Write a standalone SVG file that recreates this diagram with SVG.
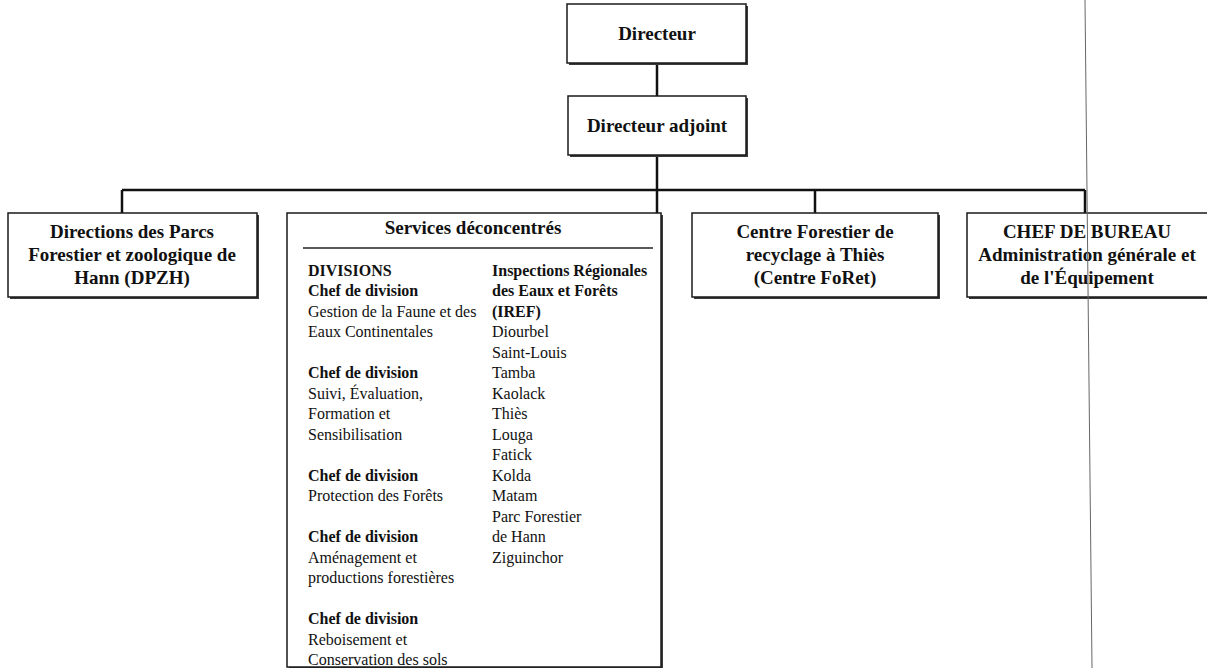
<svg xmlns="http://www.w3.org/2000/svg" width="1207" height="668" viewBox="0 0 1207 668">
<style>
.bg{fill:#ffffff}
.sh{fill:#3a3a3a}
.box{fill:#ffffff;stroke:#1a1a1a;stroke-width:1.5}
.ln{fill:none;stroke:#111;stroke-width:2.5}
.sep{fill:none;stroke:#222;stroke-width:1.5}
.art{fill:none;stroke:#666;stroke-width:1}
.t{font-family:"Liberation Serif","Times New Roman",serif;font-weight:bold;font-size:19px;fill:#111;text-anchor:middle}
.b{font-family:"Liberation Serif","Times New Roman",serif;font-weight:bold;font-size:16px;fill:#111}
.r{font-family:"Liberation Serif","Times New Roman",serif;font-size:16px;fill:#111}
</style>
<rect class="bg" x="0" y="0" width="1207" height="668"/>

<g id="connectors">
<line class="ln" x1="657" y1="63" x2="657" y2="96"/>
<line class="ln" x1="657" y1="155" x2="657" y2="190"/>
<line class="ln" x1="122" y1="190" x2="1085" y2="190"/>
<line class="ln" x1="122" y1="190" x2="122" y2="213"/>
<line class="ln" x1="657" y1="190" x2="657" y2="213"/>
<line class="ln" x1="815" y1="190" x2="815" y2="213"/>
<line class="ln" x1="1085" y1="190" x2="1085" y2="213"/>
</g>

<g id="directeur">
<rect class="sh" x="569" y="6" width="179" height="59"/>
<rect class="box" x="567" y="4" width="179" height="59"/>
<text class="t" x="657" y="40">Directeur</text>
</g>

<g id="directeur-adjoint">
<rect class="sh" x="570" y="98" width="178" height="59"/>
<rect class="box" x="568" y="96" width="178" height="59"/>
<text class="t" x="657" y="132">Directeur adjoint</text>
</g>

<g id="dpzh">
<rect class="sh" x="10" y="215" width="249" height="84"/>
<rect class="box" x="8" y="213" width="249" height="84"/>
<text class="t" x="132" y="238">Directions des Parcs</text>
<text class="t" x="132" y="261">Forestier et zoologique de</text>
<text class="t" x="132" y="284">Hann (DPZH)</text>
</g>

<g id="services">
<rect class="sh" x="289" y="215" width="374" height="456"/>
<rect class="box" x="287" y="213" width="374" height="454"/>
<text class="t" x="473" y="234">Services déconcentrés</text>
<line class="sep" x1="303" y1="248" x2="653" y2="248"/>
<text class="b" x="308" y="275.5">DIVISIONS</text>
<text class="b" x="308" y="296">Chef de division</text>
<text class="r" x="308" y="316.5">Gestion de la Faune et des</text>
<text class="r" x="308" y="337">Eaux Continentales</text>
<text class="b" x="308" y="378">Chef de division</text>
<text class="r" x="308" y="398.5">Suivi, Évaluation,</text>
<text class="r" x="308" y="419">Formation et</text>
<text class="r" x="308" y="439.5">Sensibilisation</text>
<text class="b" x="308" y="480.5">Chef de division</text>
<text class="r" x="308" y="501">Protection des Forêts</text>
<text class="b" x="308" y="542">Chef de division</text>
<text class="r" x="308" y="562.5">Aménagement et</text>
<text class="r" x="308" y="583">productions forestières</text>
<text class="b" x="308" y="624">Chef de division</text>
<text class="r" x="308" y="644.5">Reboisement et</text>
<text class="r" x="308" y="665">Conservation des sols</text>

<text class="b" x="492" y="275.5">Inspections Régionales</text>
<text class="b" x="492" y="296">des Eaux et Forêts</text>
<text class="b" x="492" y="316.5">(IREF)</text>
<text class="r" x="492" y="337">Diourbel</text>
<text class="r" x="492" y="357.5">Saint-Louis</text>
<text class="r" x="492" y="378">Tamba</text>
<text class="r" x="492" y="398.5">Kaolack</text>
<text class="r" x="492" y="419">Thiès</text>
<text class="r" x="492" y="439.5">Louga</text>
<text class="r" x="492" y="460">Fatick</text>
<text class="r" x="492" y="480.5">Kolda</text>
<text class="r" x="492" y="501">Matam</text>
<text class="r" x="492" y="521.5">Parc Forestier</text>
<text class="r" x="492" y="542">de Hann</text>
<text class="r" x="492" y="562.5">Ziguinchor</text>
</g>

<g id="centre-foret">
<rect class="sh" x="694" y="215" width="246" height="84"/>
<rect class="box" x="692" y="213" width="246" height="84"/>
<text class="t" x="815" y="238">Centre Forestier de</text>
<text class="t" x="815" y="261">recyclage à Thiès</text>
<text class="t" x="815" y="284">(Centre FoRet)</text>
</g>

<g id="chef-bureau">
<rect class="sh" x="969" y="215" width="250" height="84"/>
<rect class="box" x="967" y="213" width="250" height="84"/>
<text class="t" x="1087" y="238">CHEF DE BUREAU</text>
<text class="t" x="1087" y="261">Administration générale et</text>
<text class="t" x="1087" y="284">de l'Équipement</text>
</g>

<line class="art" x1="1085" y1="0" x2="1092" y2="668"/>
</svg>
